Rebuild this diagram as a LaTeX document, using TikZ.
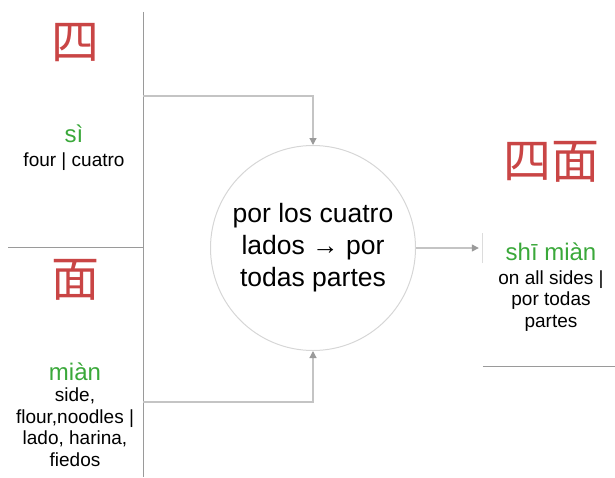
\documentclass[tikz,border=0pt]{standalone}
\usepackage{fontspec}
\setmainfont{Liberation Sans}
\newfontfamily\cjk{Noto Sans CJK SC}
\usetikzlibrary{arrows.meta,positioning}
\definecolor{hzred}{HTML}{C94545}
\definecolor{pygreen}{HTML}{3AA83A}
\definecolor{edgegray}{HTML}{9A9A9A}
\definecolor{linkgray}{HTML}{C4C4C4}

\begin{document}
\begin{tikzpicture}[x=1pt, y=-1pt,
  every node/.style={inner sep=0pt},
  hanzi/.style={font=\cjk\fontsize{48}{52}\selectfont, text=hzred, anchor=base},
  pinyin/.style={font=\fontsize{24}{28}\selectfont, text=pygreen, anchor=base},
  gloss/.style={font=\fontsize{19}{21.5}\selectfont, align=center, anchor=base},
  link/.style={draw=linkgray, line width=1.2pt, -{Triangle[length=7pt, width=7pt, fill=edgegray, color=edgegray]}},
  edge/.style={draw=edgegray, line width=1.2pt}]
  \useasboundingbox (0,0) rectangle (615,477);

  % Left word boxes
  \node[minimum width=135pt, minimum height=235pt] (sibox) at (75.5,129.5) {};
  \node[minimum width=135pt, minimum height=230pt] (mianbox) at (75.5,362) {};

  % Result box
  \node[minimum width=132pt, minimum height=236pt] (shibox) at (549,248) {};

  % Box edges
  \draw[edge] (sibox.north east) -- (sibox.south east) -- (sibox.south west);
  \draw[edge] (mianbox.north east) -- (mianbox.south east);
  \draw[edge] (shibox.south west) -- (shibox.south east);
  \draw[draw=linkgray!60, line width=1pt] ([yshift=-15pt]shibox.west) -- ([yshift=15pt]shibox.west);

  % 四
  \node[hanzi] (sichar) at (75,59) {四};
  \node[pinyin] (sipy) at (74,142) {sì};
  \node[gloss] (sigloss) at (74,166) {four | cuatro};

  % 面 (base of a multi-line node is its last line)
  \node[hanzi] (mianchar) at (75,296) {面};
  \node[pinyin] (mianpy) at (75,380) {miàn};
  \node[gloss] (miangloss) at (75,466) {side,\\flour,noodles |\\lado, harina,\\fiedos};

  % 四面
  \node[hanzi] (shichar) at (551,178) {四面};
  \node[pinyin] (shipy) at (551,260) {shī miàn};
  \node[gloss] (shigloss) at (551,327) {on all sides |\\por todas\\partes};

  % Meaning circle
  \node[circle, draw=linkgray!70, line width=1pt, minimum size=205pt,
        font=\fontsize{26.5}{32}\selectfont, align=center] (idiom) at (313,248)
        {por los cuatro\\lados → por\\todas partes};

  % Arrows
  \coordinate (siout) at (143,96);
  \coordinate (mianout) at (143,402);
  \draw[link] (siout) -| (idiom.north);
  \draw[link] (mianout) -| (idiom.south);
  \draw[link] (idiom.east) -- ([xshift=-4pt]shibox.west);
\end{tikzpicture}
\end{document}
